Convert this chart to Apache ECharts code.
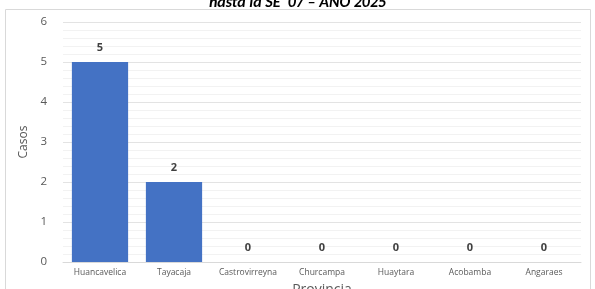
<!DOCTYPE html>
<html><head><meta charset="utf-8">
<script src="https://cdn.jsdelivr.net/npm/echarts@6/dist/echarts.min.js"></script>
<style>html,body{margin:0;padding:0;background:#fff}#c{width:595px;height:289px}</style>
</head><body><div id="c"></div>
<script>
const categories = ['Huancavelica','Tayacaja','Castrovirreyna','Churcampa','Huaytara','Acobamba','Angaraes'];
const casos = [5,2,0,0,0,0,0];
const yTicks = [0,1,2,3,4,5,6];

const chart = echarts.init(document.getElementById('c'));
chart.setOption({
  animation:false,
  title:{text:'hasta la SE  07 – AÑO 2025',left:'center',top:-10,
    textStyle:{fontFamily:'Calibri, Carlito, "Liberation Sans", sans-serif',fontSize:16,fontWeight:'bold',fontStyle:'italic',color:'#000'}},
  graphic:[{type:'rect',shape:{x:5.5,y:9.5,width:585,height:290},style:{fill:'none',stroke:'#d9d9d9',lineWidth:1},silent:true}],
  grid:{left:63,right:14,top:22,bottom:27,outerBoundsMode:'none',containLabel:false},
  xAxis:{type:'category',data:categories,
    name:'Provincia',nameLocation:'middle',nameGap:21,
    nameTextStyle:{fontSize:14,color:'#595959',fontFamily:'"Open Sans", sans-serif'},
    axisLine:{lineStyle:{color:'#d9d9d9'}},axisTick:{show:false},
    axisLabel:{fontSize:8.5,color:'#595959',margin:6,interval:0,fontFamily:'"Open Sans", sans-serif'}},
  yAxis:{type:'value',min:0,max:6,interval:1,
    name:'Casos',nameLocation:'middle',nameGap:30,
    nameTextStyle:{fontSize:12,color:'#595959',fontFamily:'"Open Sans", sans-serif'},
    axisLine:{show:false},axisTick:{show:false},
    axisLabel:{fontSize:11.5,color:'#595959',margin:16,fontFamily:'"Open Sans", sans-serif',
      formatter:v=>yTicks.includes(v)?String(v):''},
    splitLine:{lineStyle:{color:'#e3e3e3'}},
    minorTick:{show:false,splitNumber:5},
    minorSplitLine:{show:true,lineStyle:{color:'#f2f2f2'}}},
  series:[{type:'bar',data:casos,barWidth:'76%',
    itemStyle:{color:'#4472C4'},
    label:{show:true,position:'top',distance:9,fontSize:11,fontWeight:'bold',color:'#404040',fontFamily:'"Open Sans", sans-serif'}}]
});
</script></body></html>
